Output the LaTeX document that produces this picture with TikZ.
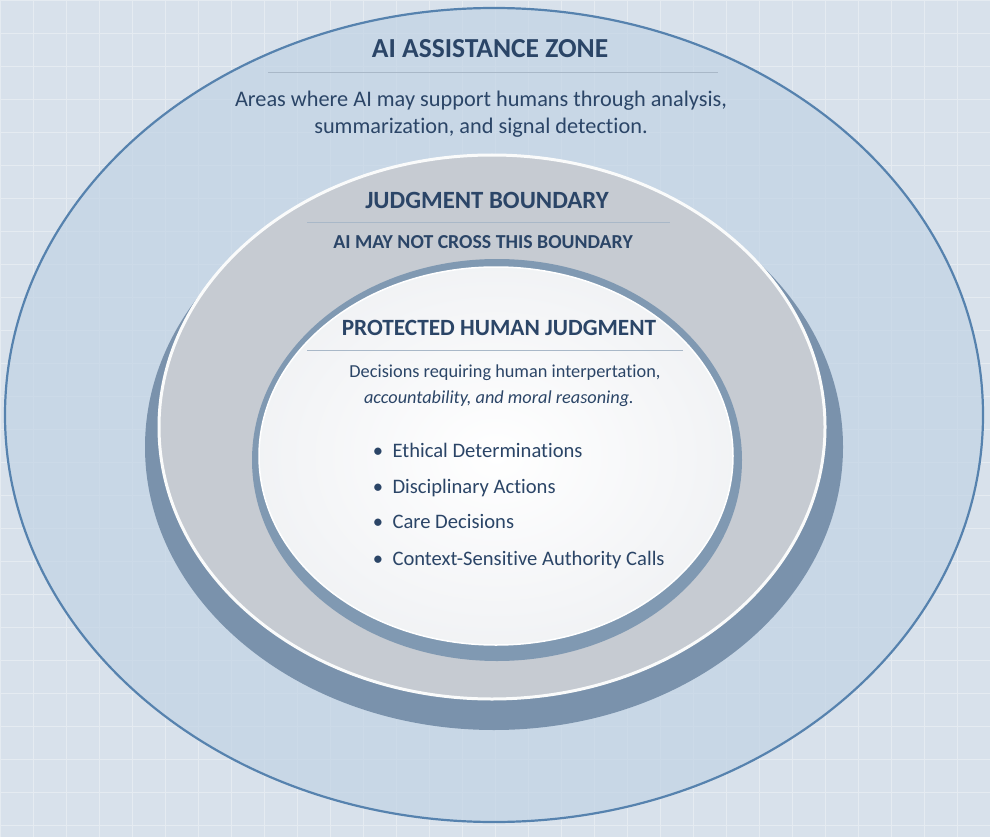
\documentclass[tikz,border=0pt]{standalone}
\usepackage{fontspec}
\setmainfont{Carlito}[Ligatures=NoCommon]
\usepackage{tikz}

\definecolor{bgblue}{HTML}{D8E1EB}
\definecolor{zonefill}{HTML}{C2D3E5}
\definecolor{zoneline}{HTML}{5682AE}
\definecolor{basering}{HTML}{7A92AC}
\definecolor{boundgrey}{HTML}{C6CBD2}
\definecolor{wellring}{HTML}{8099B2}
\definecolor{corewhite}{HTML}{F5F6F8}
\definecolor{inkblue}{HTML}{2B4567}
\definecolor{seprule}{HTML}{A9B8C8}

\begin{document}
\begin{tikzpicture}[x=1pt,y=1pt,yscale=-1,xscale=1,
  heading/.style={anchor=base,inner sep=0.75pt,text=inkblue,font=\bfseries\fontsize{#1}{#1}\selectfont},
  bodytext/.style={anchor=base,inner sep=0.75pt,text=inkblue,font=\fontsize{#1}{#1}\selectfont},
  itemtext/.style={anchor=base west,inner sep=0.75pt,text=inkblue,font=\fontsize{20.6}{20.6}\selectfont},
  sep/.style={draw=seprule,line width=1}]
        \useasboundingbox (0,0) rectangle (990,837);

        %Shape: Background
        \fill [bgblue] (0,0) rectangle (990,837);
        %Shape: Grid
        \draw [white,opacity=0.35,line width=0.8] (0,0) grid [step=33] (990,837);

        %Shape: Ellipse (assistance zone)
        \fill [zonefill,opacity=0.7] (494,415) ellipse [x radius=489,y radius=407];
        \draw [zoneline,line width=2.2] (494,415) ellipse [x radius=489,y radius=407];

        %Shape: Ellipse (boundary base)
        \fill [basering] (494,447) ellipse [x radius=349,y radius=283];
        %Shape: Ellipse (boundary disc)
        \fill [boundgrey,draw=white!92!boundgrey,line width=3] (492,427) ellipse [x radius=333,y radius=272];

        %Shape: Ellipse (protected well)
        \fill [wellring] (497,460) ellipse [x radius=245,y radius=201];
        %Shape: Ellipse (protected core)
        \fill [inner color=white,outer color=corewhite!92!boundgrey,draw=white,line width=1.5] (496,456) ellipse [x radius=237,y radius=189];

        % Text Node
        \draw (490,58) node (zonetitle) [heading=27.5] {AI ASSISTANCE ZONE};
        \draw [sep] (268,73) -- (718,73);
        % Text Node
        \draw (481,107) node (zonetext) [bodytext=22.3] {Areas where AI may support humans through analysis,};
        % Text Node
        \draw (481,134) node (zonetext2) [bodytext=22.3] {summarization, and signal detection.};

        % Text Node
        \draw (487,208) node (boundtitle) [heading=24.8] {JUDGMENT BOUNDARY};
        \draw [sep] (307,222) -- (670,222);
        % Text Node
        \draw (483,248) node (boundtext) [heading=19.8] {AI MAY NOT CROSS THIS BOUNDARY};

        % Text Node
        \draw (499,335) node (coretitle) [heading=23.3] {PROTECTED HUMAN JUDGMENT};
        \draw [sep] (307,350) -- (683,350);
        % Text Node
        \draw (505,377) node (coretext) [bodytext=18.3] {Decisions requiring human interpertation,};
        % Text Node
        \draw (499,403) node (coretext2) [bodytext=18.3] {\itshape accountability, and moral reasoning.};

        % Text Node
        \draw (372,457) node (ethics) [itemtext] {\textbullet\ \ Ethical Determinations};
        % Text Node
        \draw (372,493) node (discipline) [itemtext] {\textbullet\ \ Disciplinary Actions};
        % Text Node
        \draw (372,528) node (care) [itemtext] {\textbullet\ \ Care Decisions};
        % Text Node
        \draw (372,565) node (authority) [itemtext] {\textbullet\ \ Context-Sensitive Authority Calls};

\end{tikzpicture}
\end{document}
